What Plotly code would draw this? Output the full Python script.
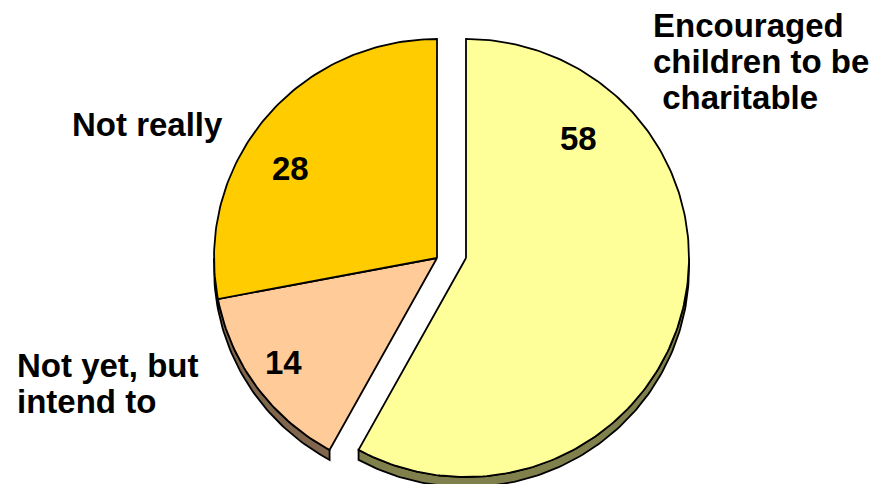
import numpy as np
import plotly.graph_objects as go

labels = ["Encouraged<br>children to be<br> charitable", "Not yet, but<br>intend to", "Not really"]
values = [58, 14, 28]

top_colors = ["#FFFF99", "#FFCC99", "#FFCC00"]
side_colors = ["#80804D", "#80664D", "#806600"]

# pie geometry in pixels, y grows downward
cx, cy = 437, 258
rx, ry = 223, 219
depth = 10
pull = [29, 0, 0]
value_pos = [(578, 138), (283, 362), (290, 168)]
label_pos = [(651, 25), (15, 365), (70, 124)]
line_gap = 36
font = "Arial, Liberation Sans, sans-serif"
fsize = 33


def rim(a0, a1, ox, oy=0):
    # points along the ellipse edge, angles clockwise from 12 o'clock
    n = max(int(abs(a1 - a0)), 2) + 1
    t = np.radians(np.linspace(a0, a1, n))
    return cx + ox + rx * np.sin(t), cy + oy - ry * np.cos(t)


fig = go.Figure()
bounds = np.concatenate([[0], np.cumsum(values)]) / sum(values) * 360

# side walls (only the front half is visible)
for i in range(len(values)):
    s0, s1 = max(bounds[i], 90), min(bounds[i + 1], 270)
    if s1 <= s0:
        continue
    x1, y1 = rim(s0, s1, pull[i])
    x2, y2 = rim(s1, s0, pull[i], depth)
    fig.add_trace(go.Scatter(
        x=np.r_[x1, x2, x1[0]], y=np.r_[y1, y2, y1[0]],
        mode="lines", fill="toself", fillcolor=side_colors[i],
        line=dict(color="black", width=1.8), hoverinfo="skip"))

# top faces
for i in range(len(values)):
    x, y = rim(bounds[i], bounds[i + 1], pull[i])
    fig.add_trace(go.Scatter(
        x=np.r_[cx + pull[i], x, cx + pull[i]], y=np.r_[cy, y, cy],
        mode="lines", fill="toself", fillcolor=top_colors[i],
        line=dict(color="black", width=1.8), hoverinfo="skip"))

annotations = []
for v, (x, y) in zip(values, value_pos):
    annotations.append(dict(x=x, y=y, xref="x", yref="y", text=f"<b>{v}</b>",
                            showarrow=False, xanchor="center", yanchor="middle",
                            font=dict(family=font, size=fsize, color="black")))
for lab, (x, y) in zip(labels, label_pos):
    for k, line in enumerate(lab.split("<br>")):
        line = line.replace(" ", "&nbsp;", 1) if line.startswith(" ") else line
        annotations.append(dict(x=x, y=y + k * line_gap, xref="x", yref="y",
                                text=f"<b>{line}</b>",
                                showarrow=False, xanchor="left", yanchor="middle",
                                font=dict(family=font, size=fsize, color="black")))

fig.update_layout(
    width=886, height=484,
    margin=dict(l=0, r=0, t=0, b=0),
    paper_bgcolor="white", plot_bgcolor="white",
    showlegend=False,
    xaxis=dict(range=[0, 886], visible=False, fixedrange=True),
    yaxis=dict(range=[484, 0], visible=False, fixedrange=True),
    annotations=annotations,
)

fig.write_html("out.html", config={"displayModeBar": False},
               post_script="document.body.style.margin='0';")
